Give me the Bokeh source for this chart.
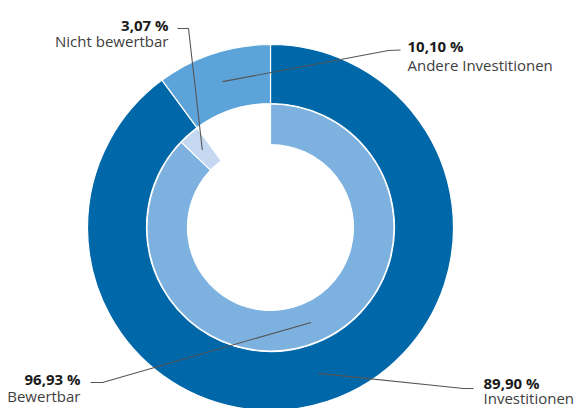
import numpy as np
from bokeh.plotting import figure
from bokeh.models import Range1d
from bokeh.embed import file_html
from bokeh.resources import INLINE
from bokeh.core.properties import value

# ---- data ----
outer_labels = ["Investitionen", "Andere Investitionen"]
outer_values = [89.90, 10.10]
inner_labels = ["Bewertbar", "Nicht bewertbar"]
inner_values = [96.93, 3.07]   # share of "Investitionen"

outer_colors = ["#0067a9", "#5ca3d9"]
inner_colors = ["#7db1df", "#c4d9f1"]

# ---- layout (screen px) ----
W, H = 577, 408
def X(sx):
    return sx
def Y(sy):
    return H - sy

CX, CY = 270, 227
R_OUT = (124, 183)
R_IN = (83, 123.5)

p = figure(width=W, height=H, x_range=Range1d(0, W), y_range=Range1d(0, H),
           output_backend="svg", toolbar_location=None, min_border=0,
           x_axis_type=None, y_axis_type=None)
p.grid.visible = False
p.outline_line_color = None
p.background_fill_color = "white"
p.border_fill_color = "white"

def ring(values, scale, radii, colors):
    fr = np.array(values, dtype=float) / 100.0 * scale
    cum = np.concatenate([[0], np.cumsum(fr)])
    starts = np.pi / 2 - 2 * np.pi * cum[:-1]
    ends = np.pi / 2 - 2 * np.pi * cum[1:]
    p.annular_wedge(x=[X(CX)] * len(fr), y=[Y(CY)] * len(fr),
                    inner_radius=radii[0], outer_radius=radii[1],
                    start_angle=list(starts), end_angle=list(ends),
                    direction="clock", fill_color=colors,
                    line_color="white", line_width=1.2)
    mids = (cum[:-1] + cum[1:]) / 2  # fraction of turn, clockwise from top
    rm = (radii[0] + radii[1]) / 2
    ax = CX + rm * np.sin(2 * np.pi * mids)
    ay = CY - rm * np.cos(2 * np.pi * mids)
    return list(zip(ax, ay))

outer_anchor = ring(outer_values, 1.0, R_OUT, outer_colors)
inner_anchor = ring(inner_values, outer_values[0] / 100.0, R_IN, inner_colors)

def fmt(v):
    return f"{v:.2f}".replace(".", ",") + " %"

# label layout: (anchor, elbow, end, text_x, align, bold_baseline, name_baseline)
labels = [
    (outer_anchor[0], (463, 388), (473, 388), 483, "left", 382, 397.5, outer_values[0], outer_labels[0]),
    (outer_anchor[1], (388, 50), (400, 49.5), 407, "left", 45.7, 64.3, outer_values[1], outer_labels[1]),
    (inner_anchor[0], (102, 382), (90, 382), 80, "right", 378.3, 395.5, inner_values[0], inner_labels[0]),
    (inner_anchor[1], (188, 28), (177, 28), 168, "right", 24, 40.5, inner_values[1], inner_labels[1]),
]

xs, ys = [], []
for a, e, t, *_ in labels:
    xs.append([X(a[0]), X(e[0]), X(t[0])])
    ys.append([Y(a[1]), Y(e[1]), Y(t[1])])
p.multi_line(xs=xs, ys=ys, line_color="#555555", line_width=1.1)

for a, e, t, tx, align, b1, b2, v, name in labels:
    p.text(x=[X(tx)], y=[Y(b1)], text=[fmt(v)], text_font=value("Open Sans"),
           text_font_style="bold", text_font_size="15px", text_color="#1a1a1a",
           text_align=align, text_baseline="alphabetic")
    p.text(x=[X(tx)], y=[Y(b2)], text=[name], text_font=value("Open Sans"),
           text_font_size="15px", text_color="#404040",
           text_align=align, text_baseline="alphabetic")

open("out.html", "w").write(file_html(p, INLINE))
